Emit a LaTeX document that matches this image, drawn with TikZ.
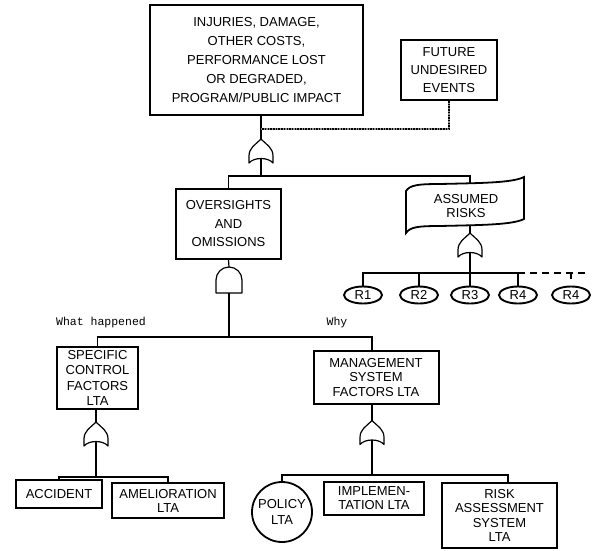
\documentclass[tikz,border=0pt]{standalone}
\usepackage{fontspec}
\setmainfont{Liberation Sans}
\newfontfamily\monofnt{Liberation Mono}
\usetikzlibrary{shapes.geometric,calc}
\newcommand\orgateshape[1]{%
  \draw[gateline] (#1.north) .. controls +(-6,6) and +(0,-8) .. ([shift={(-12,17)}]#1.north)
    -- ([shift={(-12,24)}]#1.north) .. controls +(5,-6) and +(-5,-6) .. ([shift={(12,24)}]#1.north)
    -- ([shift={(12,17)}]#1.north) .. controls +(0,-8) and +(6,6) .. (#1.north);
  \coordinate (#1-in) at ([shift={(0,19.5)}]#1.north);}
\newcommand\andgateshape[1]{%
  \draw[gateline] ([shift={(-13,26)}]#1.north) -- ([shift={(-13,13)}]#1.north)
    .. controls +(0,-7.2) and +(-7.2,0) .. (#1.north)
    .. controls +(7.2,0) and +(0,-7.2) .. ([shift={(13,13)}]#1.north)
    -- ([shift={(13,26)}]#1.north) -- cycle;}
\begin{document}
\begin{tikzpicture}[x=1pt,y=-1pt,
  box/.style={draw, line width=2pt, align=center, inner sep=0pt},
  gate/.style={minimum width=24pt, minimum height=24pt, inner sep=0pt, outer sep=0pt},
  andg/.style={minimum width=26pt, minimum height=26pt, inner sep=0pt, outer sep=0pt},
  gateline/.style={line width=1.2pt, line join=round},
  conn/.style={line width=1.2pt},
  futline/.style={line width=2.6pt, draw=black!45, postaction={draw=black, line width=2.6pt, dash pattern=on 1.5pt off 1.2pt}},
  rnode/.style={draw, ellipse, line width=1.9pt, minimum width=38pt, minimum height=17pt, inner sep=0pt, font=\fontsize{13}{13}\selectfont},
  lbl/.style={font=\monofnt\fontsize{11.5}{11.5}\selectfont}
]
\useasboundingbox (0,0) rectangle (594,550);

% boxes
\node[box, line width=2.4pt, minimum width=213pt, minimum height=110pt, font=\fontsize{13}{19}\selectfont] (top) at (256.5,60)
  {INJURIES, DAMAGE,\\ OTHER COSTS,\\ PERFORMANCE LOST\\ OR DEGRADED,\\ PROGRAM/PUBLIC IMPACT};
\node[box, minimum width=96pt, minimum height=60pt, font=\fontsize{13}{18}\selectfont] (fut) at (449,70)
  {FUTURE\\ UNDESIRED\\ EVENTS};
\node[box, minimum width=105pt, minimum height=70pt, font=\fontsize{13}{18.5}\selectfont] (over) at (228.5,224)
  {OVERSIGHTS\\ AND\\ OMISSIONS};
\node[align=center, inner sep=0pt, font=\fontsize{13}{14}\selectfont] (ar) at (466,206) {ASSUMED\\ RISKS};
\draw[line width=1.8pt] (406,191) .. controls (410,185) and (418,184) .. (440,184)
  .. controls (480,183) and (512,183) .. (524,177) -- (524,219)
  .. controls (512,225) and (480,225) .. (440,226)
  .. controls (418,226) and (410,227) .. (406,233) -- cycle;
\coordinate (arT) at (470,183.5);
\coordinate (arB) at (470,225.5);

\node[box, minimum width=81pt, minimum height=62pt, font=\fontsize{13}{15.3}\selectfont] (spec) at (97.5,378)
  {SPECIFIC\\ CONTROL\\ FACTORS\\ LTA};
\node[box, minimum width=125pt, minimum height=53pt, font=\fontsize{13}{14.5}\selectfont] (mgmt) at (376,377.5)
  {MANAGEMENT\\ SYSTEM\\ FACTORS LTA};
\node[box, minimum width=86pt, minimum height=28pt, font=\fontsize{13}{14}\selectfont] (acc) at (59,494) {ACCIDENT};
\node[box, minimum width=112pt, minimum height=35pt, font=\fontsize{13}{14}\selectfont] (amel) at (168,500.5)
  {AMELIORATION\\ LTA};
\node[draw, circle, line width=1.8pt, minimum size=60pt, inner sep=0pt, align=center, font=\fontsize{13}{16}\selectfont] (pol) at (282,512)
  {POLICY\\ LTA};
\node[box, minimum width=100pt, minimum height=33pt, font=\fontsize{13}{14}\selectfont] (impl) at (374,498.5)
  {IMPLEMEN-\\ TATION LTA};
\node[box, minimum width=115pt, minimum height=65pt, font=\fontsize{13}{14.3}\selectfont] (risk) at (499.5,515.5)
  {RISK\\ ASSESSMENT\\ SYSTEM\\ LTA};

% R events
\node[rnode] (r1) at (363,295) {R1};
\node[rnode] (r2) at (419,295) {R2};
\node[rnode] (r3) at (470,295) {R3};
\node[rnode] (r4) at (518,295) {R4};
\node[rnode] (r5) at (571,295) {R4};

% gates
\node[gate] (g1) at (261,151) {};   \orgateshape{g1}
\node[andg] (g2) at (229,280) {};   \andgateshape{g2}
\node[gate] (g3) at (470,245) {};   \orgateshape{g3}
\node[gate] (g4) at (96,434) {};    \orgateshape{g4}
\node[gate] (g5) at (372,432.5) {}; \orgateshape{g5}

% labels
\node[lbl] (wh) at (101,323) {What happened};
\node[lbl] (why) at (337,323) {Why};

% connectors
\draw[conn] (top.south -| g1.north) -- (g1.north);
\coordinate (j1) at (261,129);
\draw[futline] (fut.south) |- (j1);
\coordinate (b1) at (261,176);
\draw[conn] (g1-in) -- (b1);
\draw[conn] (over.north) |- (b1) -| (arT);

\draw[conn] (arB) -- (g3.north);
\coordinate (b3) at (470,273);
\draw[conn] (g3-in) -- (b3);
\draw[conn] (r1.north) |- (b3) -| (r4.north);
\draw[conn] (r2.north) -- (r2.north |- b3);
\draw[conn] (r3.north) -- (b3);
\coordinate (dend) at (588,273);
\draw[conn, dash pattern=on 7pt off 5pt] (r4.north |- b3) -- (dend);
\coordinate (tick) at (571,279);
\draw[conn] (r5.north |- b3) -- (tick);

\draw[conn] (over.south) -- (g2.north);
\coordinate (b2) at (229,337);
\draw[conn] (g2.south) -- (b2);
\draw[conn] (spec.north) |- (b2) -| (mgmt.north -| g5.north);

\draw[conn] (spec.south -| g4.north) -- (g4.north);
\coordinate (b4) at (96,477);
\draw[conn] (g4-in) -- (b4);
\draw[conn] (acc.north) |- (b4) -| (amel.north);

\draw[conn] (mgmt.south -| g5.north) -- (g5.north);
\coordinate (b5) at (372,475);
\draw[conn] (g5-in) -- (b5);
\coordinate (rk) at (508,475);
\draw[conn] (pol.north) |- (b5) -- (rk) -- (rk |- risk.north);
\end{tikzpicture}
\end{document}
